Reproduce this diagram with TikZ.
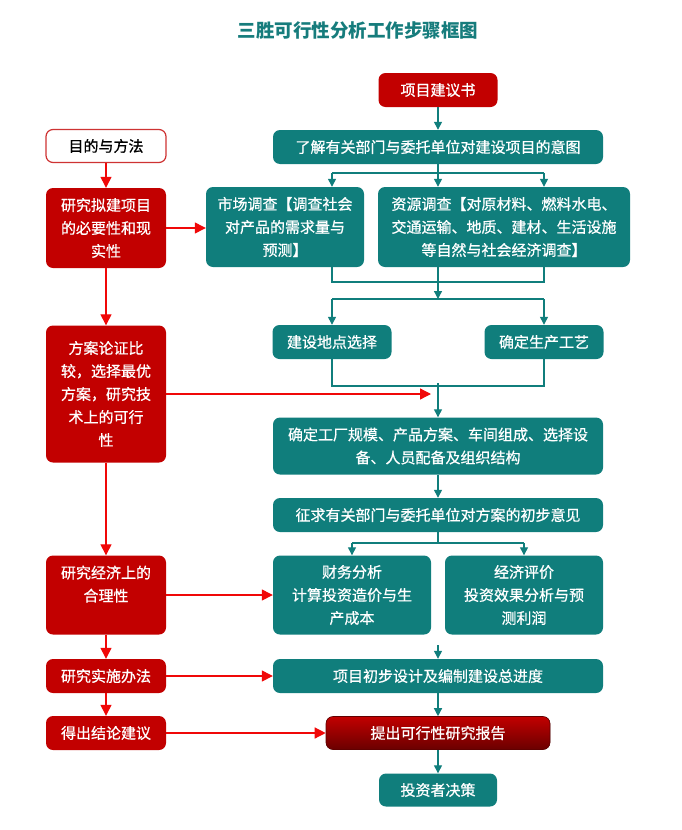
\documentclass[tikz,border=0pt]{standalone}
\usepackage{fontspec}
\setmainfont{Noto Sans CJK SC}
\newfontfamily\boxfont[FakeBold=0.7]{Noto Sans CJK SC}
\usetikzlibrary{arrows.meta}

\definecolor{boxteal}{RGB}{16,126,124}
\definecolor{boxred}{RGB}{194,0,0}
\definecolor{linered}{RGB}{240,8,8}
\definecolor{titleteal}{RGB}{22,124,124}

\tikzset{
	tealbox/.style={rectangle, rounded corners=7pt, fill=boxteal, text=white, align=center, inner sep=0pt, font=\boxfont\fontsize{15}{23}\selectfont},
	redbox/.style={tealbox, fill=boxred},
	aimbox/.style={tealbox, fill=white, draw=boxred!80, line width=1.2pt, text=black},
	reportbox/.style={tealbox, top color=boxred, bottom color=boxred!55!black, draw=boxred!50!black, line width=0.6pt},
	tline/.style={draw=boxteal, line width=1.3pt, >={Triangle[length=8pt,width=8pt]}},
	rline/.style={draw=linered, line width=1.3pt, >={Triangle[length=11pt,width=11pt]}}
}

\begin{document}
\begin{tikzpicture}[x=1pt, y=-1pt]
	% Picture frame, in pixels of the reference
	\useasboundingbox (0,0) rectangle (681,830);
	
	% Title
	\node[text=titleteal, font=\fontsize{18.5}{20}\selectfont\bfseries] (title) at (358,30) {三胜可行性分析工作步骤框图};
	
	%% Right column %%
	\node[redbox, minimum width=119pt, minimum height=34pt] (proposal) at (438,90) {项目建议书};
	\node[tealbox, minimum width=330pt, minimum height=34pt] (intent) at (438,147) {了解有关部门与委托单位对建设项目的意图};
	
	% Surveys
	\node[tealbox, minimum width=158pt, minimum height=80pt] (market) at (285,227) {市场调查【调查社会\\对产品的需求量与\\预测】};
	\node[tealbox, minimum width=252pt, minimum height=80pt] (resource) at (504,227) {资源调查【对原材料、燃料水电、\\交通运输、地质、建材、生活设施\\等自然与社会经济调查】};
	
	% Site and process
	\node[tealbox, minimum width=119pt, minimum height=34pt] (site) at (332,342) {建设地点选择};
	\node[tealbox, minimum width=119pt, minimum height=34pt] (craft) at (544,342) {确定生产工艺};
	
	\node[tealbox, minimum width=330pt, minimum height=57pt] (scale) at (438,446) {确定工厂规模、产品方案、车间组成、选择设\\备、人员配备及组织结构};
	\node[tealbox, minimum width=330pt, minimum height=34pt] (consult) at (438,515) {征求有关部门与委托单位对方案的初步意见};
	
	% Analyses
	\node[tealbox, minimum width=158pt, minimum height=79pt] (finance) at (352,595) {财务分析\\计算投资造价与生\\产成本};
	\node[tealbox, minimum width=158pt, minimum height=79pt] (econ) at (524,595) {经济评价\\投资效果分析与预\\测利润};
	
	\node[tealbox, minimum width=330pt, minimum height=34pt] (design) at (438,676) {项目初步设计及编制建设总进度};
	\node[reportbox, minimum width=224pt, minimum height=33pt] (report) at (438,733) {提出可行性研究报告};
	\node[tealbox, minimum width=118pt, minimum height=33pt] (decision) at (438,790) {投资者决策};
	
	%% Left column %%
	\node[aimbox, minimum width=120pt, minimum height=33pt] (aim) at (106,146) {目的与方法};
	\node[redbox, minimum width=120pt, minimum height=80pt] (need) at (106,228) {研究拟建项目\\的必要性和现\\实性};
	\node[redbox, minimum width=120pt, minimum height=137pt] (scheme) at (106,394) {方案论证比\\较，选择最优\\方案，研究技\\术上的可行\\性};
	\node[redbox, minimum width=120pt, minimum height=79pt] (rational) at (106,595) {研究经济上的\\合理性\\\mbox{}};
	\node[redbox, minimum width=120pt, minimum height=34pt] (implement) at (106,676) {研究实施办法};
	\node[redbox, minimum width=120pt, minimum height=34pt] (conclude) at (106,733) {得出结论建议};
	
	%% Junction points
	\coordinate (s1) at (438,173);
	\coordinate (s1l) at (332,173);
	\coordinate (s1r) at (544,173);
	\coordinate (m1l) at (332,282);
	\coordinate (m1r) at (544,282);
	\coordinate (s2) at (438,299);
	\coordinate (s2l) at (332,299);
	\coordinate (s2r) at (544,299);
	\coordinate (m2l) at (332,386);
	\coordinate (m2r) at (544,386);
	\coordinate (m2) at (438,383);
	\coordinate (hit) at (431,394);
	\coordinate (s3) at (438,543);
	\coordinate (s3l) at (352,543);
	\coordinate (s3r) at (524,543);
	\coordinate (d0) at (438,645);
	
	%% Teal connectors
	\draw[tline, ->] (proposal) -- (intent);
	\draw[tline] (intent.south) -- (s1);
	\draw[tline] (s1l) -- (s1r);
	\draw[tline, ->] (s1l) -- (s1l |- market.north);
	\draw[tline, ->] (s1) -- (s1 |- resource.north);
	\draw[tline, ->] (s1r) -- (s1r |- resource.north);
	
	\draw[tline] (m1l |- market.south) -- (m1l) -- (m1r) -- (m1r |- resource.south);
	\draw[tline, ->] (s2 |- resource.south) -- (s2);
	\draw[tline] (s2l) -- (s2r);
	\draw[tline, ->] (s2l) -- (site.north);
	\draw[tline, ->] (s2r) -- (craft.north);
	
	\draw[tline] (site.south) -- (m2l) -- (m2r) -- (craft.south);
	\draw[tline, ->] (m2) -- (scale.north);
	\draw[tline, ->] (scale) -- (consult);
	
	\draw[tline] (consult.south) -- (s3);
	\draw[tline] (s3l) -- (s3r);
	\draw[tline, ->] (s3l) -- (finance.north);
	\draw[tline, ->] (s3r) -- (econ.north);
	
	\draw[tline, ->] (d0) -- (design.north);
	\draw[tline, ->] (design) -- (report);
	\draw[tline, ->] (report) -- (decision);
	
	%% Red connectors
	\draw[rline, ->] (aim) -- (need);
	\draw[rline, ->] (need) -- (scheme);
	\draw[rline, ->] (scheme) -- (rational);
	\draw[rline, ->] (rational) -- (implement);
	\draw[rline, ->] (implement) -- (conclude);
	
	\draw[rline, ->] (need.east) -- (need.east -| market.west);
	\draw[rline, ->] (scheme.east |- hit) -- (hit);
	\draw[rline, ->] (rational.east) -- (rational.east -| finance.west);
	\draw[rline, ->] (implement.east) -- (design.west);
	\draw[rline, ->] (conclude.east) -- (report.west);
	
\end{tikzpicture}
\end{document}
